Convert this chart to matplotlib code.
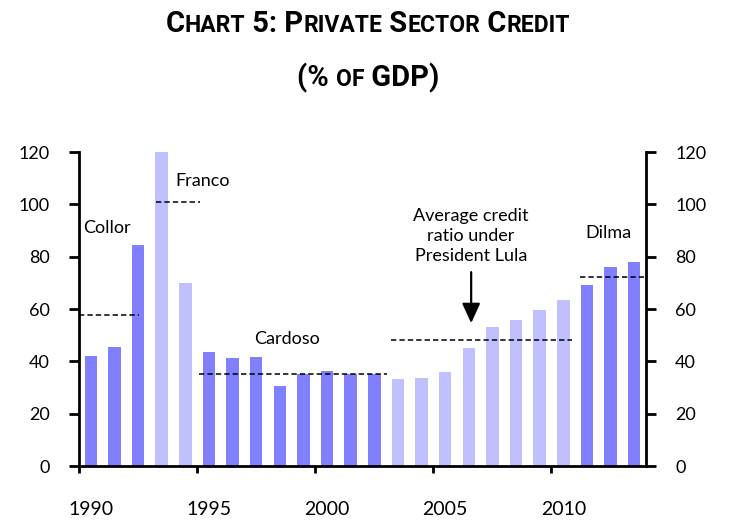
import matplotlib
matplotlib.use('Agg')
import matplotlib.pyplot as plt

years = list(range(1990, 2014))
credit = [42.1, 45.3, 84.6, 120.0, 69.8, 43.6, 41.4, 41.5, 30.4, 35.0, 36.4, 35.0,
          35.0, 33.2, 33.6, 36.0, 45.1, 53.0, 55.8, 59.6, 63.5, 69.0, 75.9, 78.1]
# which shade each year gets (alternating presidents)
shade = ['dark'] * 3 + ['light'] * 2 + ['dark'] * 8 + ['light'] * 8 + ['dark'] * 3

# president averages: start/end on the category axis and average level
avg_names = ['Collor', 'Franco', 'Cardoso', 'Lula', 'Dilma']
avg_start = [-0.5, 2.75, 4.57, 12.72, 20.7]
avg_end = [2.05, 4.63, 12.53, 20.36, 23.4]
avg_value = [57.7, 101.0, 35.2, 48.3, 72.1]

tick_years = [1990, 1995, 2000, 2005, 2010]

colors = {'dark': '#8080ff', 'light': '#c0c0ff'}
text_font = ['Lato', 'DejaVu Sans']
title_font = ['Roboto', 'DejaVu Sans']

fig = plt.figure(figsize=(7.36, 5.31), dpi=100)
ax = fig.add_axes([0.1073, 0.1224, 0.7704, 0.5913])

x = list(range(len(years)))
ax.bar(x, credit, width=0.53, color=[colors[s] for s in shade], zorder=2)

for s, e, v in zip(avg_start, avg_end, avg_value):
    ax.plot([s, e], [v, v], color='black', lw=1.1, ls=(0, (3.5, 2)), zorder=3)

ax.set_xlim(-0.5, 23.5)
ax.set_ylim(0, 120)
ax.set_yticks(range(0, 121, 20))
# tick marks between categories, labels under the year's own bar
ax.set_xticks([years.index(y) - 0.5 for y in tick_years])
ax.set_xticklabels([])
ax.set_xticks([years.index(y) for y in tick_years], minor=True)
ax.set_xticklabels([str(y) for y in tick_years], minor=True)

ax.spines['top'].set_visible(False)
for side in ['left', 'right', 'bottom']:
    ax.spines[side].set_linewidth(2)

ax.tick_params(axis='y', direction='out', length=7, width=2,
               labelsize=13, pad=14, left=True, right=True,
               labelleft=True, labelright=True)
ax.tick_params(axis='x', which='major', direction='out', length=5, width=2)
ax.tick_params(axis='x', which='minor', length=0, labelsize=14, pad=25)
for lab in ax.get_xticklabels(minor=True):
    lab.set_fontfamily(text_font)
for t in ax.yaxis.get_major_ticks():
    t.label1.set_fontfamily(text_font)
    t.label2.set_fontfamily(text_font)

# president labels
ax.text(0.7, 91, 'Collor', fontsize=13, family=text_font, ha='center', va='center')
ax.text(4.75, 109, 'Franco', fontsize=13, family=text_font, ha='center', va='center')
ax.text(8.3, 48.5, 'Cardoso', fontsize=13, family=text_font, ha='center', va='center')
ax.text(21.9, 89, 'Dilma', fontsize=13, family=text_font, ha='center', va='center')
ax.text(16.1, 88, 'Average credit\nratio under\nPresident Lula', ha='center', va='center',
        fontsize=13, family=text_font, linespacing=1.3)
ax.annotate('', xy=(16.1, 54.6), xytext=(16.1, 74.1),
            arrowprops=dict(arrowstyle='-|>,head_length=1.2,head_width=0.55',
                            color='black', lw=1.6, shrinkA=0, shrinkB=0))


def small_caps(fig, y, text, big, small):
    renderer = fig.canvas.get_renderer()
    runs = []
    for ch in text:
        kind = 'small' if ch.islower() else 'big'
        if runs and runs[-1][0] == kind:
            runs[-1][1] += ch
        else:
            runs.append([kind, ch])
    items = []
    for kind, s in runs:
        t = fig.text(0, y, s.upper(), fontsize=big if kind == 'big' else small,
                     fontweight='bold', family=title_font, ha='left', va='baseline')
        w = t.get_window_extent(renderer).width
        items.append((t, w))
    total = sum(w for _, w in items)
    start = (fig.bbox.width - total) / 2
    for t, w in items:
        t.set_x(start / fig.bbox.width)
        start += w


small_caps(fig, 0.940, 'Chart 5: Private Sector Credit', 21, 16.5)
small_caps(fig, 0.838, '(% of GDP)', 21, 16.5)

fig.savefig('out.png', dpi=100)
